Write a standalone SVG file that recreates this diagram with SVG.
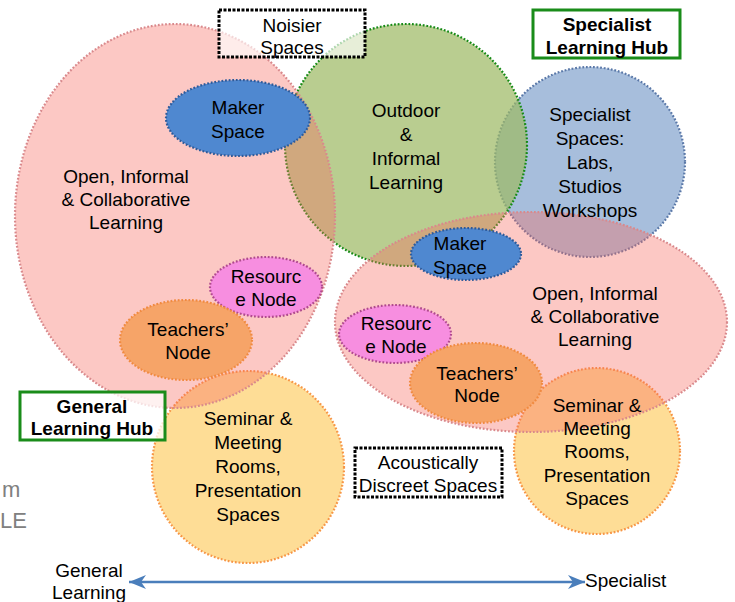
<svg xmlns="http://www.w3.org/2000/svg" width="735" height="602" viewBox="0 0 735 602">
<defs>
<style>
text{font-family:"Liberation Sans",Arial,sans-serif;font-size:19px;fill:#000;text-anchor:middle}
.b{font-weight:bold}
.dot{stroke-width:2.2;stroke-dasharray:1.8 1.8}
.pink{fill:#f76b60;fill-opacity:0.37;stroke:#d9898c}
.green{fill:#9eba65;fill-opacity:0.72;stroke:#168a16}
.blue{fill:#a7bedc;stroke:#5a78a8}
.maker{fill:#4f88d0;stroke:#2d5a9a}
.res{fill:#f78ee0;stroke:#b04a8e}
.teach{fill:#f6a468;stroke:#f08a40}
.sem{fill:#fedd96;stroke:#f79646}
.hub{fill:#fff;fill-opacity:0.75;stroke:#1a8c1a;stroke-width:3}
.zone{fill:#fff;fill-opacity:0.65;stroke:#000;stroke-width:3;stroke-dasharray:3 1.5}
.gray{fill:#808080;font-size:22px;text-anchor:start}
</style>
<marker id="ah" markerUnits="userSpaceOnUse" markerWidth="18" markerHeight="16" viewBox="0 0 18 16" refX="17" refY="8" orient="auto-start-reverse">
<path d="M0,1 L17,8 L0,15 L5,8 z" fill="#4a7ebb"/>
</marker>
</defs>

<text class="gray" x="2" y="497">m</text>
<text class="gray" x="0" y="528">LE</text>

<g id="specialist-spaces"><circle class="blue dot" cx="590" cy="162" r="95"/></g>
<g id="seminar-left"><circle class="sem dot" cx="248" cy="467" r="96"/></g>
<g id="seminar-right"><circle class="sem dot" cx="597" cy="451" r="83"/></g>
<g id="outdoor"><circle class="green dot" cx="406" cy="145" r="121"/></g>
<g id="open-left"><ellipse class="pink dot" cx="175" cy="216" rx="160" ry="192"/></g>
<g id="open-right"><ellipse class="pink dot" cx="531" cy="322" rx="196" ry="110"/></g>

<g id="maker-left"><ellipse class="maker dot" cx="238" cy="118" rx="72" ry="38"/>
<text x="238" y="114">Maker</text><text x="238" y="138">Space</text></g>
<g id="maker-right"><ellipse class="maker dot" cx="466" cy="254" rx="55" ry="26"/>
<text x="460" y="250">Maker</text><text x="460" y="274">Space</text></g>
<g id="resource-left"><ellipse class="res dot" cx="266" cy="287" rx="56" ry="30"/>
<text x="266" y="283">Resourc</text><text x="266" y="306">e Node</text></g>
<g id="resource-right"><ellipse class="res dot" cx="395" cy="334" rx="56" ry="29"/>
<text x="396" y="330">Resourc</text><text x="396" y="353">e Node</text></g>
<g id="teachers-left"><ellipse class="teach dot" cx="186" cy="340" rx="66" ry="40"/>
<text x="188" y="336">Teachers’</text><text x="188" y="359">Node</text></g>
<g id="teachers-right"><ellipse class="teach dot" cx="476" cy="383" rx="66" ry="40"/>
<text x="477" y="380">Teachers’</text><text x="477" y="402">Node</text></g>

<g id="labels">
<text x="126" y="183">Open, Informal</text>
<text x="126" y="206">&amp; Collaborative</text>
<text x="126" y="229">Learning</text>
<text x="406" y="117">Outdoor</text>
<text x="406" y="141">&amp;</text>
<text x="406" y="165">Informal</text>
<text x="406" y="189">Learning</text>
<text x="590" y="121">Specialist</text>
<text x="590" y="145">Spaces:</text>
<text x="590" y="169">Labs,</text>
<text x="590" y="193">Studios</text>
<text x="590" y="217">Workshops</text>
<text x="595" y="300">Open, Informal</text>
<text x="595" y="323">&amp; Collaborative</text>
<text x="595" y="346">Learning</text>
<text x="248" y="425">Seminar &amp;</text>
<text x="248" y="449">Meeting</text>
<text x="248" y="473">Rooms,</text>
<text x="248" y="497">Presentation</text>
<text x="248" y="521">Spaces</text>
<text x="597" y="412">Seminar &amp;</text>
<text x="597" y="435">Meeting</text>
<text x="597" y="458">Rooms,</text>
<text x="597" y="482">Presentation</text>
<text x="597" y="505">Spaces</text>
</g>

<g id="noisier"><rect class="zone" x="219" y="10" width="146" height="47"/>
<text x="292" y="32">Noisier</text><text x="292" y="54">Spaces</text></g>
<g id="acoustic"><rect class="zone" x="355" y="448" width="147" height="49"/>
<text x="428" y="469">Acoustically</text><text x="428" y="492">Discreet Spaces</text></g>
<g id="specialist-hub"><rect class="hub" x="533" y="10" width="147" height="48"/>
<text class="b" x="607" y="31">Specialist</text><text class="b" x="607" y="54">Learning Hub</text></g>
<g id="general-hub"><rect class="hub" x="20" y="392" width="145" height="48"/>
<text class="b" x="92" y="413">General</text><text class="b" x="92" y="435">Learning Hub</text></g>

<g id="connectors">
<line x1="129" y1="582" x2="585" y2="582" stroke="#4a7ebb" stroke-width="2.5" marker-start="url(#ah)" marker-end="url(#ah)"/>
</g>
<g id="axis-labels">
<text x="89" y="577">General</text>
<text x="89" y="599">Learning</text>
<text x="585" y="587" style="text-anchor:start">Specialist</text>
</g>
</svg>
